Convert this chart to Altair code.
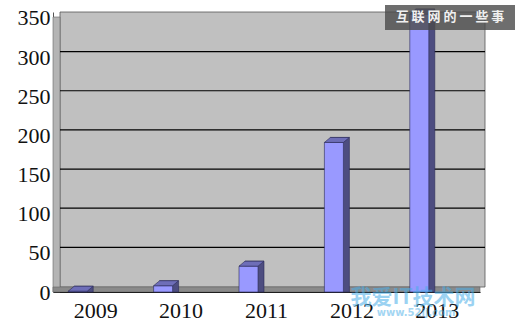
import altair as alt
import pandas as pd

years = ["2009", "2010", "2011", "2012", "2013"]
values = [1, 8, 33, 191, 355]
y_ticks = [0, 50, 100, 150, 200, 250, 300, 350]
grid_values = [50, 100, 150, 200, 250, 300]

df = pd.DataFrame({"year": years, "value": values, "base": [0] * len(years)})
grid_df = pd.DataFrame({"g": grid_values})
one = alt.Data(values=[{"k": 1}])

W, H = 427, 280
YMAX = 357.6

x_enc = alt.X(
    "year:N",
    sort=years,
    scale=alt.Scale(paddingInner=0, paddingOuter=0),
    axis=alt.Axis(
        title=None, labelAngle=0, ticks=False, domainColor="#000000",
        labelFont="Liberation Serif", labelFontSize=22, labelPadding=8,
        labelColor="#111111", labelOverlap=False,
    ),
)
y_scale = alt.Scale(domain=[0, YMAX], nice=False, zero=True)
y_axis = alt.Axis(
    title=None, values=y_ticks, grid=False, ticks=False, domainColor="#555555",
    labelFont="Liberation Serif", labelFontSize=22, labelPadding=3,
    labelColor="#111111", labelOverlap=False, labelFlush=False,
)
y_enc = alt.Y("value:Q", scale=y_scale, axis=y_axis)

back_wall = alt.Chart(one).mark_rect(fill="#c0c0c0", stroke="#555555", strokeWidth=0.8).encode(
    x=alt.value(7), x2=alt.value(432), y=alt.value(0), y2=alt.value(275)
)
left_wall = alt.Chart(one).mark_rect(fill="#b4b4b4", stroke="#666666", strokeWidth=0.6).encode(
    x=alt.value(0), x2=alt.value(7), y=alt.value(5), y2=alt.value(280)
)
floor = alt.Chart(one).mark_rect(fill="#8a8a8a", stroke="#666666", strokeWidth=0.6).encode(
    x=alt.value(0), x2=alt.value(427), y=alt.value(275), y2=alt.value(280)
)
grid = alt.Chart(grid_df).mark_rule(color="#000000", strokeWidth=1.2, yOffset=-5.5).encode(
    y=alt.Y("g:Q", scale=y_scale, axis=y_axis), x=alt.value(7), x2=alt.value(432)
)

side = alt.Chart(df).mark_bar(
    width=19, xOffset=-12, yOffset=-5, y2Offset=0, color="#4d4d80",
    stroke="#2a2a55", strokeWidth=0.6,
).encode(x=x_enc, y=y_enc, y2="base:Q")

front = alt.Chart(df).mark_bar(
    width=19, xOffset=-18, color="#9999ff", stroke="#2a2a55", strokeWidth=0.6,
).encode(x=x_enc, y=y_enc, y2="base:Q")

top_face = alt.Chart(df).mark_point(
    shape="M -1 0.2 L 0.52 0.2 L 1 -0.2 L -0.52 -0.2 Z",
    size=625, filled=True, color="#6e6eb8", stroke="#2a2a55", strokeWidth=0.6,
    opacity=1, xOffset=-15, yOffset=-2.5,
).encode(x=x_enc, y=y_enc)

wm_box = alt.Chart(one).mark_rect(color="#4a4a4a", opacity=0.8).encode(
    x=alt.value(332), x2=alt.value(462), y=alt.value(-7), y2=alt.value(18)
)
wm_text = alt.Chart(one).mark_text(
    text="互 联 网 的 一 些 事", font="Noto Sans CJK SC", fontSize=13,
    fontWeight="bold", color="#f0f0f0",
).encode(x=alt.value(397), y=alt.value(5))

logo = alt.Chart(one).mark_text(
    text="我爱IT技术网", font="Noto Sans CJK SC", fontSize=21, fontWeight="bold",
    color="#4aaee8", opacity=0.55,
).encode(x=alt.value(360), y=alt.value(286))
logo_url = alt.Chart(one).mark_text(
    text="www.52ij.com", font="DejaVu Sans", fontSize=10, fontWeight="bold",
    color="#4aaee8", opacity=0.5,
).encode(x=alt.value(363), y=alt.value(301))

chart = alt.layer(
    back_wall, left_wall, floor, grid, side, front, top_face,
    wm_box, wm_text, logo, logo_url,
).properties(
    width=W, height=H,
    autosize=alt.AutoSizeParams(type="none"),
    padding={"left": 53, "top": 12, "right": 40, "bottom": 37},
    background="#ffffff",
).configure_view(stroke=None)

chart.save("out.html", embed_options={"renderer": "svg", "actions": False})
